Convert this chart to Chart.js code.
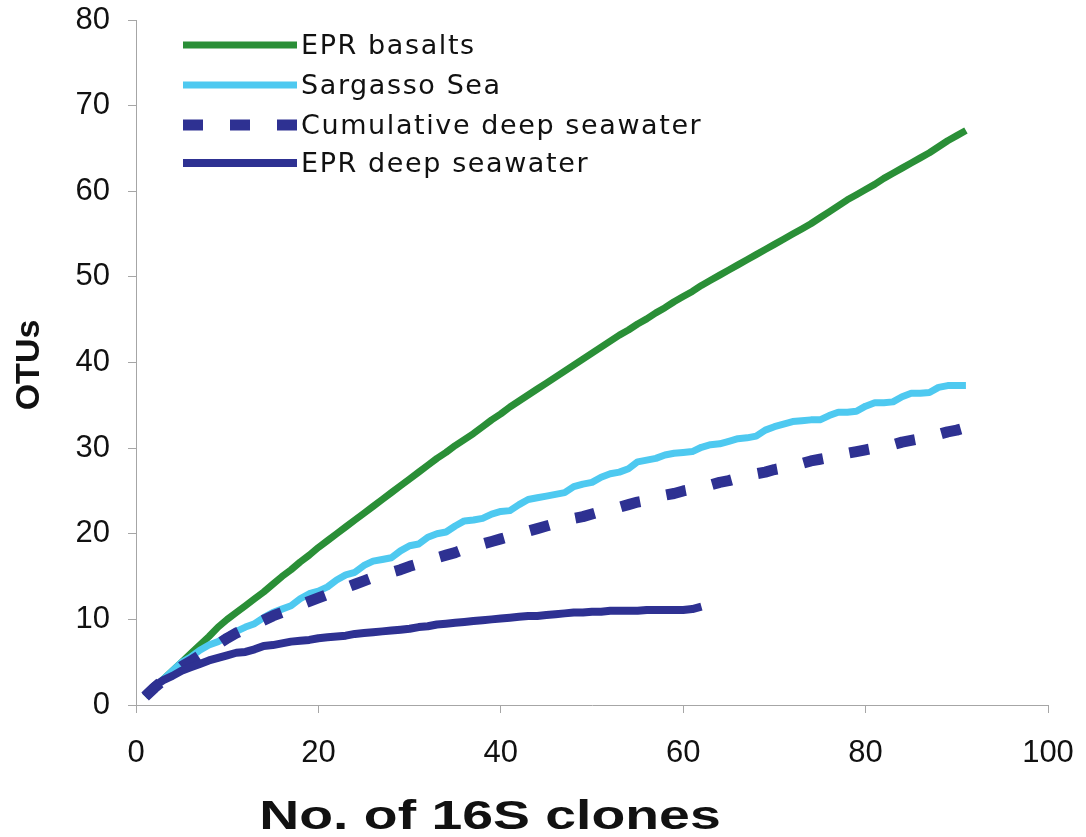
<!DOCTYPE html>
<html>
<head>
<meta charset="utf-8">
<script src="https://cdn.jsdelivr.net/npm/chart.js@4.4.1/dist/chart.umd.min.js"></script>
<style>
  html, body { margin: 0; padding: 0; background: #fff; }
  #wrap { width: 1086px; height: 837px; position: relative; }
</style>
</head>
<body>
<div id="wrap"><canvas id="otuChart" width="1086" height="837"></canvas></div>
<script>
// number of clones sampled (x)
const clones = [];
for (let i = 1; i <= 91; i++) clones.push(i);

const seriesNames = ['EPR basalts', 'Sargasso Sea', 'Cumulative deep seawater', 'EPR deep seawater'];

const basalts = [1, 2, 3, 4, 5, 6, 7, 8, 9.1, 10, 10.8, 11.6, 12.4, 13.2, 14.1, 15, 15.8, 16.7, 17.5, 18.4,
  19.2, 20, 20.8, 21.6, 22.4, 23.2, 24, 24.8, 25.6, 26.4, 27.2, 28, 28.8, 29.5, 30.3, 31, 31.7, 32.5, 33.3, 34,
  34.8, 35.5, 36.2, 36.9, 37.6, 38.3, 39, 39.7, 40.4, 41.1, 41.8, 42.5, 43.2, 43.8, 44.5, 45.1, 45.8, 46.4, 47.1, 47.7,
  48.3, 49, 49.6, 50.2, 50.8, 51.4, 52, 52.6, 53.2, 53.8, 54.4, 55, 55.6, 56.2, 56.9, 57.6, 58.3, 59, 59.6, 60.2,
  60.8, 61.5, 62.1, 62.7, 63.3, 63.9, 64.5, 65.2, 65.9, 66.5, 67.1];

const sargasso = [1, 2, 3, 4, 5, 5.6, 6.4, 7, 7.4, 8, 8.6, 9.1, 9.5, 10.2, 10.8, 11.2, 11.6, 12.4, 13, 13.3,
  13.8, 14.6, 15.2, 15.5, 16.3, 16.8, 17, 17.2, 18, 18.6, 18.8, 19.6, 20, 20.2, 20.9, 21.5, 21.6, 21.8, 22.3, 22.6,
  22.7, 23.4, 24, 24.2, 24.4, 24.6, 24.8, 25.5, 25.8, 26, 26.6, 27, 27.2, 27.6, 28.4, 28.6, 28.8, 29.2, 29.4, 29.5,
  29.6, 30.1, 30.4, 30.5, 30.8, 31.1, 31.2, 31.4, 32.1, 32.5, 32.8, 33.1, 33.2, 33.3, 33.3, 33.8, 34.2, 34.2, 34.3, 34.9,
  35.3, 35.3, 35.4, 36, 36.4, 36.4, 36.5, 37.1, 37.3, 37.3, 37.3];

const cumulative = [1, 2, 2.9, 3.7, 4.5, 5.1, 5.8, 6.5, 7.1, 7.8, 8.4, 8.9, 9.4, 9.9, 10.4, 10.8, 11.3, 11.7, 12.1, 12.5,
  12.9, 13.3, 13.7, 14.1, 14.5, 14.9, 15.2, 15.5, 15.8, 16.2, 16.5, 16.9, 17.2, 17.5, 17.8, 18.2, 18.5, 18.8, 19.1, 19.4,
  19.7, 20, 20.3, 20.6, 20.9, 21.2, 21.5, 21.8, 22, 22.3, 22.6, 22.9, 23.1, 23.4, 23.7, 23.9, 24.2, 24.5, 24.7, 25,
  25.2, 25.5, 25.7, 26, 26.2, 26.5, 26.7, 27, 27.2, 27.5, 27.7, 28, 28.2, 28.5, 28.7, 28.9, 29.2, 29.4, 29.6, 29.8,
  30, 30.2, 30.4, 30.7, 30.9, 31.1, 31.4, 31.6, 31.9, 32.1, 32.4];

// only 62 clones for this library
const deepSeawater = [1, 2.2, 2.9, 3.4, 4, 4.4, 4.8, 5.2, 5.5, 5.8, 6.1, 6.2, 6.5, 6.9, 7, 7.2, 7.4, 7.5, 7.6, 7.8,
  7.9, 8, 8.1, 8.3, 8.4, 8.5, 8.6, 8.7, 8.8, 8.9, 9.1, 9.2, 9.4, 9.5, 9.6, 9.7, 9.8, 9.9, 10, 10.1,
  10.2, 10.3, 10.4, 10.4, 10.5, 10.6, 10.7, 10.8, 10.8, 10.9, 10.9, 11, 11, 11, 11, 11.1, 11.1, 11.1, 11.1, 11.1,
  11.2, 11.5];

const xTicks = [0, 20, 40, 60, 80, 100];
const yTicks = [0, 10, 20, 30, 40, 50, 60, 70, 80];

function toPoints(vals) {
  return vals.map((v, i) => ({ x: clones[i], y: v }));
}

// legend + axis titles drawn by hand
const extras = {
  id: 'extras',
  afterDraw(chart) {
    const ctx = chart.ctx;
    ctx.save();
    // legend
    ctx.font = '27px "DejaVu Sans"';
    ctx.letterSpacing = '1.6px';
    ctx.textBaseline = 'middle';
    ctx.fillStyle = '#111';
    const rows = [45, 85, 125, 163];
    chart.data.datasets.forEach((ds, i) => {
      const y = rows[i];
      ctx.beginPath();
      ctx.strokeStyle = ds.borderColor;
      ctx.lineWidth = ds.borderWidth;
      ctx.setLineDash(ds.borderDash);
      ctx.lineCap = 'butt';
      ctx.moveTo(183, y);
      ctx.lineTo(297, y);
      ctx.stroke();
      ctx.setLineDash([]);
      ctx.fillText(ds.label, 301, y + 2);
    });
    ctx.letterSpacing = '0px';
    // y title
    ctx.font = 'bold 34px "Liberation Sans", Arial';
    ctx.textAlign = 'center';
    ctx.translate(30, 365);
    ctx.rotate(-Math.PI / 2);
    ctx.fillText('OTUs', 0, 0);
    ctx.restore();
    // x title
    ctx.save();
    ctx.font = 'bold 41px "Liberation Sans", Arial';
    ctx.fillStyle = '#111';
    ctx.textAlign = 'center';
    ctx.textBaseline = 'middle';
    ctx.translate(490, 818);
    ctx.scale(1.35, 1);
    ctx.fillText('No. of 16S clones', 0, 0);
    ctx.restore();
  }
};

const ctx = document.getElementById('otuChart').getContext('2d');
new Chart(ctx, {
  type: 'line',
  data: {
    datasets: [
      { label: seriesNames[0], data: toPoints(basalts), borderColor: '#2a8f37', borderWidth: 7, borderDash: [], order: 4 },
      { label: seriesNames[1], data: toPoints(sargasso), borderColor: '#4ec9f0', borderWidth: 7, borderDash: [], order: 3 },
      { label: seriesNames[2], data: toPoints(cumulative), borderColor: '#2e3192', borderWidth: 11, borderDash: [20, 27], order: 2 },
      { label: seriesNames[3], data: toPoints(deepSeawater), borderColor: '#2e3192', borderWidth: 8, borderDash: [], order: 1 }
    ]
  },
  options: {
    responsive: false,
    animation: false,
    devicePixelRatio: 1,
    layout: { padding: { top: 20, right: 38, left: 0, bottom: 0 } },
    elements: {
      point: { radius: 0 },
      line: { tension: 0, borderCapStyle: 'butt', borderJoinStyle: 'round' }
    },
    plugins: {
      legend: { display: false },
      tooltip: { enabled: false }
    },
    scales: {
      x: {
        type: 'linear',
        min: 0, max: 100,
        afterBuildTicks: (s) => { s.ticks = xTicks.map(v => ({ value: v })); },
        afterFit: (s) => { s.height = 132; s.paddingLeft = 0; s.paddingRight = 0; },
        grid: { drawOnChartArea: false, drawTicks: true, tickLength: 8, color: '#a6a6a6', lineWidth: 1 },
        border: { color: '#a6a6a6', width: 1 },
        ticks: { color: '#111', padding: 22, font: { family: '"Liberation Sans", Arial', size: 31 }, maxRotation: 0 }
      },
      y: {
        min: 0, max: 80,
        afterBuildTicks: (s) => { s.ticks = yTicks.map(v => ({ value: v })); },
        afterFit: (s) => { s.width = 136; s.paddingTop = 0; s.paddingBottom = 0; },
        grid: { drawOnChartArea: false, drawTicks: true, tickLength: 8, color: '#a6a6a6', lineWidth: 1 },
        border: { color: '#a6a6a6', width: 1 },
        ticks: { color: '#111', padding: 18, font: { family: '"Liberation Sans", Arial', size: 31 } }
      }
    }
  },
  plugins: [extras]
});
</script>
</body>
</html>
